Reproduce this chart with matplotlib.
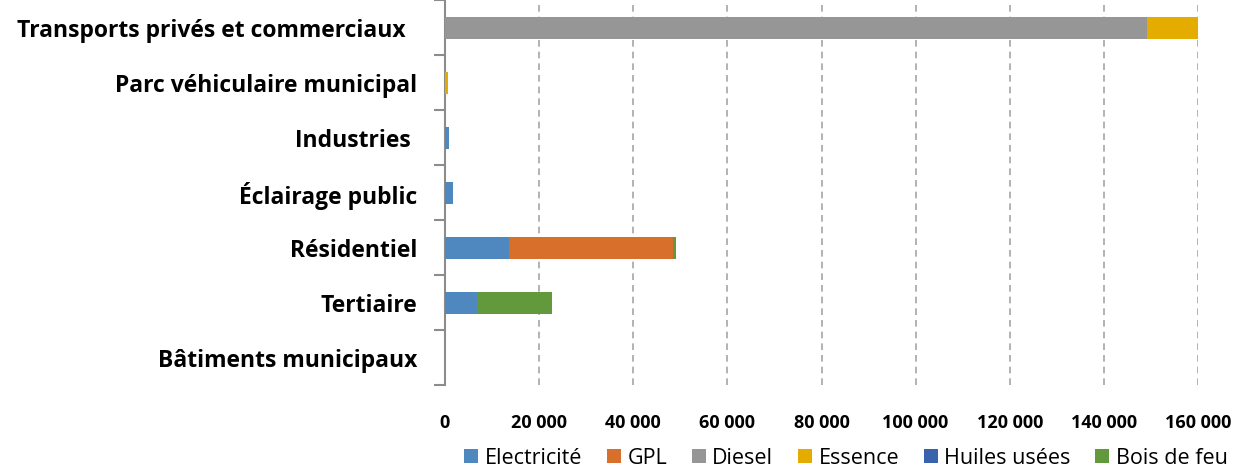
import matplotlib
matplotlib.use("Agg")
import matplotlib.pyplot as plt
from matplotlib.ticker import FuncFormatter, FixedLocator
from matplotlib.patches import Patch

# Energy consumption by sector and energy source
sectors = [
    "Transports privés et commerciaux  ",
    "Parc véhiculaire municipal",
    "Industries ",
    "Éclairage public",
    "Résidentiel",
    "Tertiaire",
    "Bâtiments municipaux",
]
electricite = [0, 0, 800, 1800, 13600, 6800, 0]
gpl = [0, 0, 0, 0, 34900, 0, 0]
diesel = [149200, 0, 0, 0, 0, 0, 0]
essence = [10900, 700, 0, 0, 0, 0, 0]
huiles_usees = [0, 0, 0, 0, 0, 0, 0]
bois_de_feu = [0, 0, 0, 0, 500, 16000, 0]

series = [
    ("Electricité", electricite, "#4f88be"),
    ("GPL", gpl, "#d86f2b"),
    ("Diesel", diesel, "#969696"),
    ("Essence", essence, "#e5ac00"),
    ("Huiles usées", huiles_usees, "#3a63ad"),
    ("Bois de feu", bois_de_feu, "#63993d"),
]
x_ticks = [0, 20000, 40000, 60000, 80000, 100000, 120000, 140000, 160000]

plt.rcParams["font.family"] = ["Open Sans", "DejaVu Sans"]

fig = plt.figure(figsize=(12.39, 4.69), dpi=100)
ax = fig.add_axes([445 / 1239, 1 - 385 / 469, (1198 - 445) / 1239, 385 / 469])

ypos = list(range(len(sectors)))
left = [0] * len(sectors)
for name, vals, col in series:
    ax.barh(ypos, vals, left=left, height=0.4, color=col, label=name, zorder=3)
    left = [a + b for a, b in zip(left, vals)]

ax.set_ylim(len(sectors) - 0.5, -0.5)
ax.set_xlim(0, 160000)

ax.set_yticks(ypos)
ax.set_yticklabels(sectors, fontsize=16.5, fontweight="bold")
ax.tick_params(axis="y", length=0, pad=20)
ax.yaxis.set_minor_locator(FixedLocator([i - 0.5 for i in range(len(sectors) + 1)]))
ax.tick_params(axis="y", which="minor", length=8, width=1.5, color="#8c8c8c")

ax.xaxis.set_major_locator(FixedLocator(x_ticks))
ax.xaxis.set_major_formatter(FuncFormatter(lambda v, p: f"{int(v):,}".replace(",", " ")))
ax.tick_params(axis="x", length=0, pad=21, labelsize=13)
for lbl in ax.get_xticklabels():
    lbl.set_fontweight("bold")

ax.grid(axis="x", color="#a6a6a6", linestyle=(0, (4, 3)), linewidth=1.2, zorder=0)
for s in ["top", "right", "bottom"]:
    ax.spines[s].set_visible(False)
ax.spines["left"].set_color("#8c8c8c")
ax.spines["left"].set_linewidth(1.5)

handles = [Patch(facecolor=c, label=n) for n, _, c in series]
fig.legend(handles=handles, loc="center", bbox_to_anchor=(846 / 1239, 1 - 458 / 469),
           ncol=6, frameon=False, fontsize=15.5, handlelength=0.65, handleheight=0.65,
           handletextpad=0.3, columnspacing=1.15)

fig.savefig("out.png", dpi=100)
